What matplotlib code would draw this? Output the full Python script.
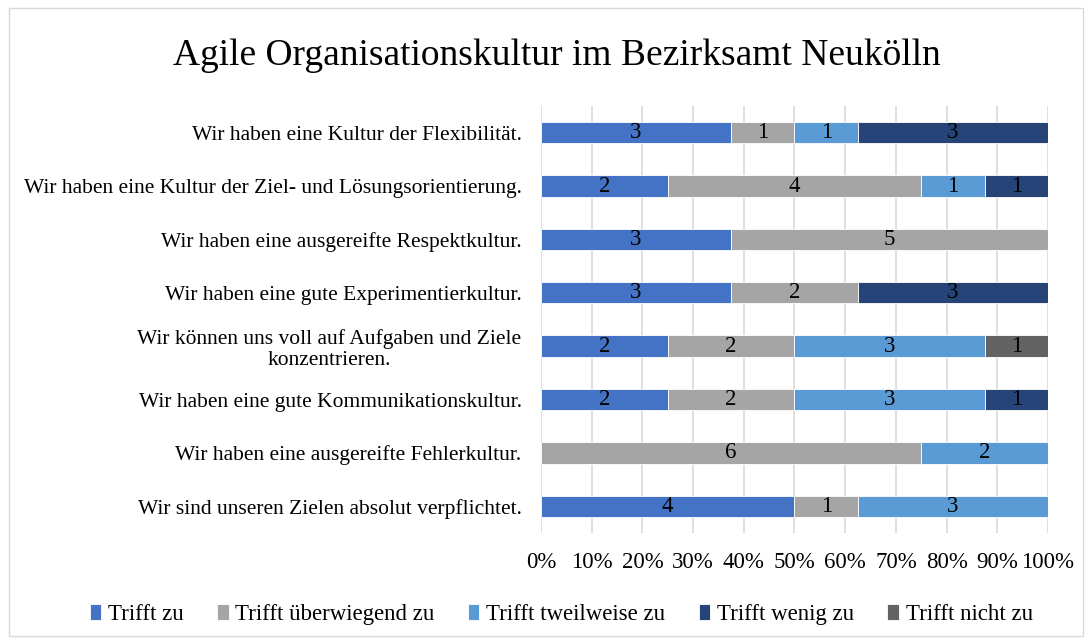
import matplotlib
matplotlib.use("Agg")
import matplotlib.pyplot as plt
from matplotlib.patches import Rectangle
import numpy as np

plt.rcParams['font.family'] = ['Liberation Serif', 'DejaVu Serif']

categories = [
    "Wir haben eine Kultur der Flexibilität.",
    "Wir haben eine Kultur der Ziel- und Lösungsorientierung.",
    "Wir haben eine ausgereifte Respektkultur.",
    "Wir haben eine gute Experimentierkultur.",
    "Wir können uns voll auf Aufgaben und Ziele\nkonzentrieren.",
    "Wir haben eine gute Kommunikationskultur.",
    "Wir haben eine ausgereifte Fehlerkultur.",
    "Wir sind unseren Zielen absolut verpflichtet.",
]
series_names = ["Trifft zu", "Trifft überwiegend zu", "Trifft tweilweise zu",
                "Trifft wenig zu", "Trifft nicht zu"]
trifft_zu = [3, 2, 3, 3, 2, 2, 0, 4]
ueberwiegend = [1, 4, 5, 2, 2, 2, 6, 1]
teilweise = [1, 1, 0, 0, 3, 3, 2, 3]
wenig = [3, 1, 0, 3, 0, 1, 0, 0]
nicht = [0, 0, 0, 0, 1, 0, 0, 0]
colors = ["#4472C4", "#A5A5A5", "#5B9BD5", "#264478", "#636363"]
xticks = [0, 10, 20, 30, 40, 50, 60, 70, 80, 90, 100]

data = np.array([trifft_zu, ueberwiegend, teilweise, wenig, nicht], dtype=float)
totals = data.sum(axis=0)
pct = data / totals * 100

fig = plt.figure(figsize=(10.92, 6.44), dpi=100)
fig.patches.append(Rectangle((0.008, 0.012), 0.984, 0.976, transform=fig.transFigure,
                             fill=False, edgecolor="#D9D9D9", linewidth=1))
ax = fig.add_axes([0.4954, 0.1724, 0.4643, 0.663])

y = np.arange(len(categories))[::-1]
left = np.zeros(len(categories))
for i, name in enumerate(series_names):
    ax.barh(y, pct[i], left=left, height=0.4, color=colors[i],
            edgecolor="white", linewidth=0.6, label=name, zorder=3)
    for j in range(len(categories)):
        if data[i, j] > 0:
            ax.text(left[j] + pct[i, j] / 2, y[j], f"{int(data[i, j])}",
                    ha="center", va="center", fontsize=16.5, color="black", zorder=4)
    left += pct[i]

ax.set_xlim(0, 100)
ax.set_ylim(-0.5, len(categories) - 0.5)
ax.set_xticks(xticks)
ax.set_xticklabels([f"{t}%" for t in xticks], fontsize=16.5)
ax.set_yticks(y)
ax.set_yticklabels(categories, fontsize=15.5, linespacing=1.12)
ax.tick_params(axis="both", length=0)
ax.tick_params(axis="x", pad=14)
ax.tick_params(axis="y", pad=14)
ax.grid(axis="x", color="#D9D9D9", linewidth=1.2, zorder=0)
for s in ax.spines.values():
    s.set_visible(False)
for lab in ax.get_yticklabels():
    lab.set_horizontalalignment("right")
    lab.set_multialignment("center")

fig.text(0.51, 0.913, "Agile Organisationskultur im Bezirksamt Neukölln",
         ha="center", va="center", fontsize=27)

fig.legend(loc="center", bbox_to_anchor=(0.514, 0.046), ncol=5, frameon=False,
           fontsize=16.5, handlelength=0.5, handleheight=0.7, handletextpad=0.3,
           columnspacing=1.45)

fig.savefig("out.png", dpi=100)
